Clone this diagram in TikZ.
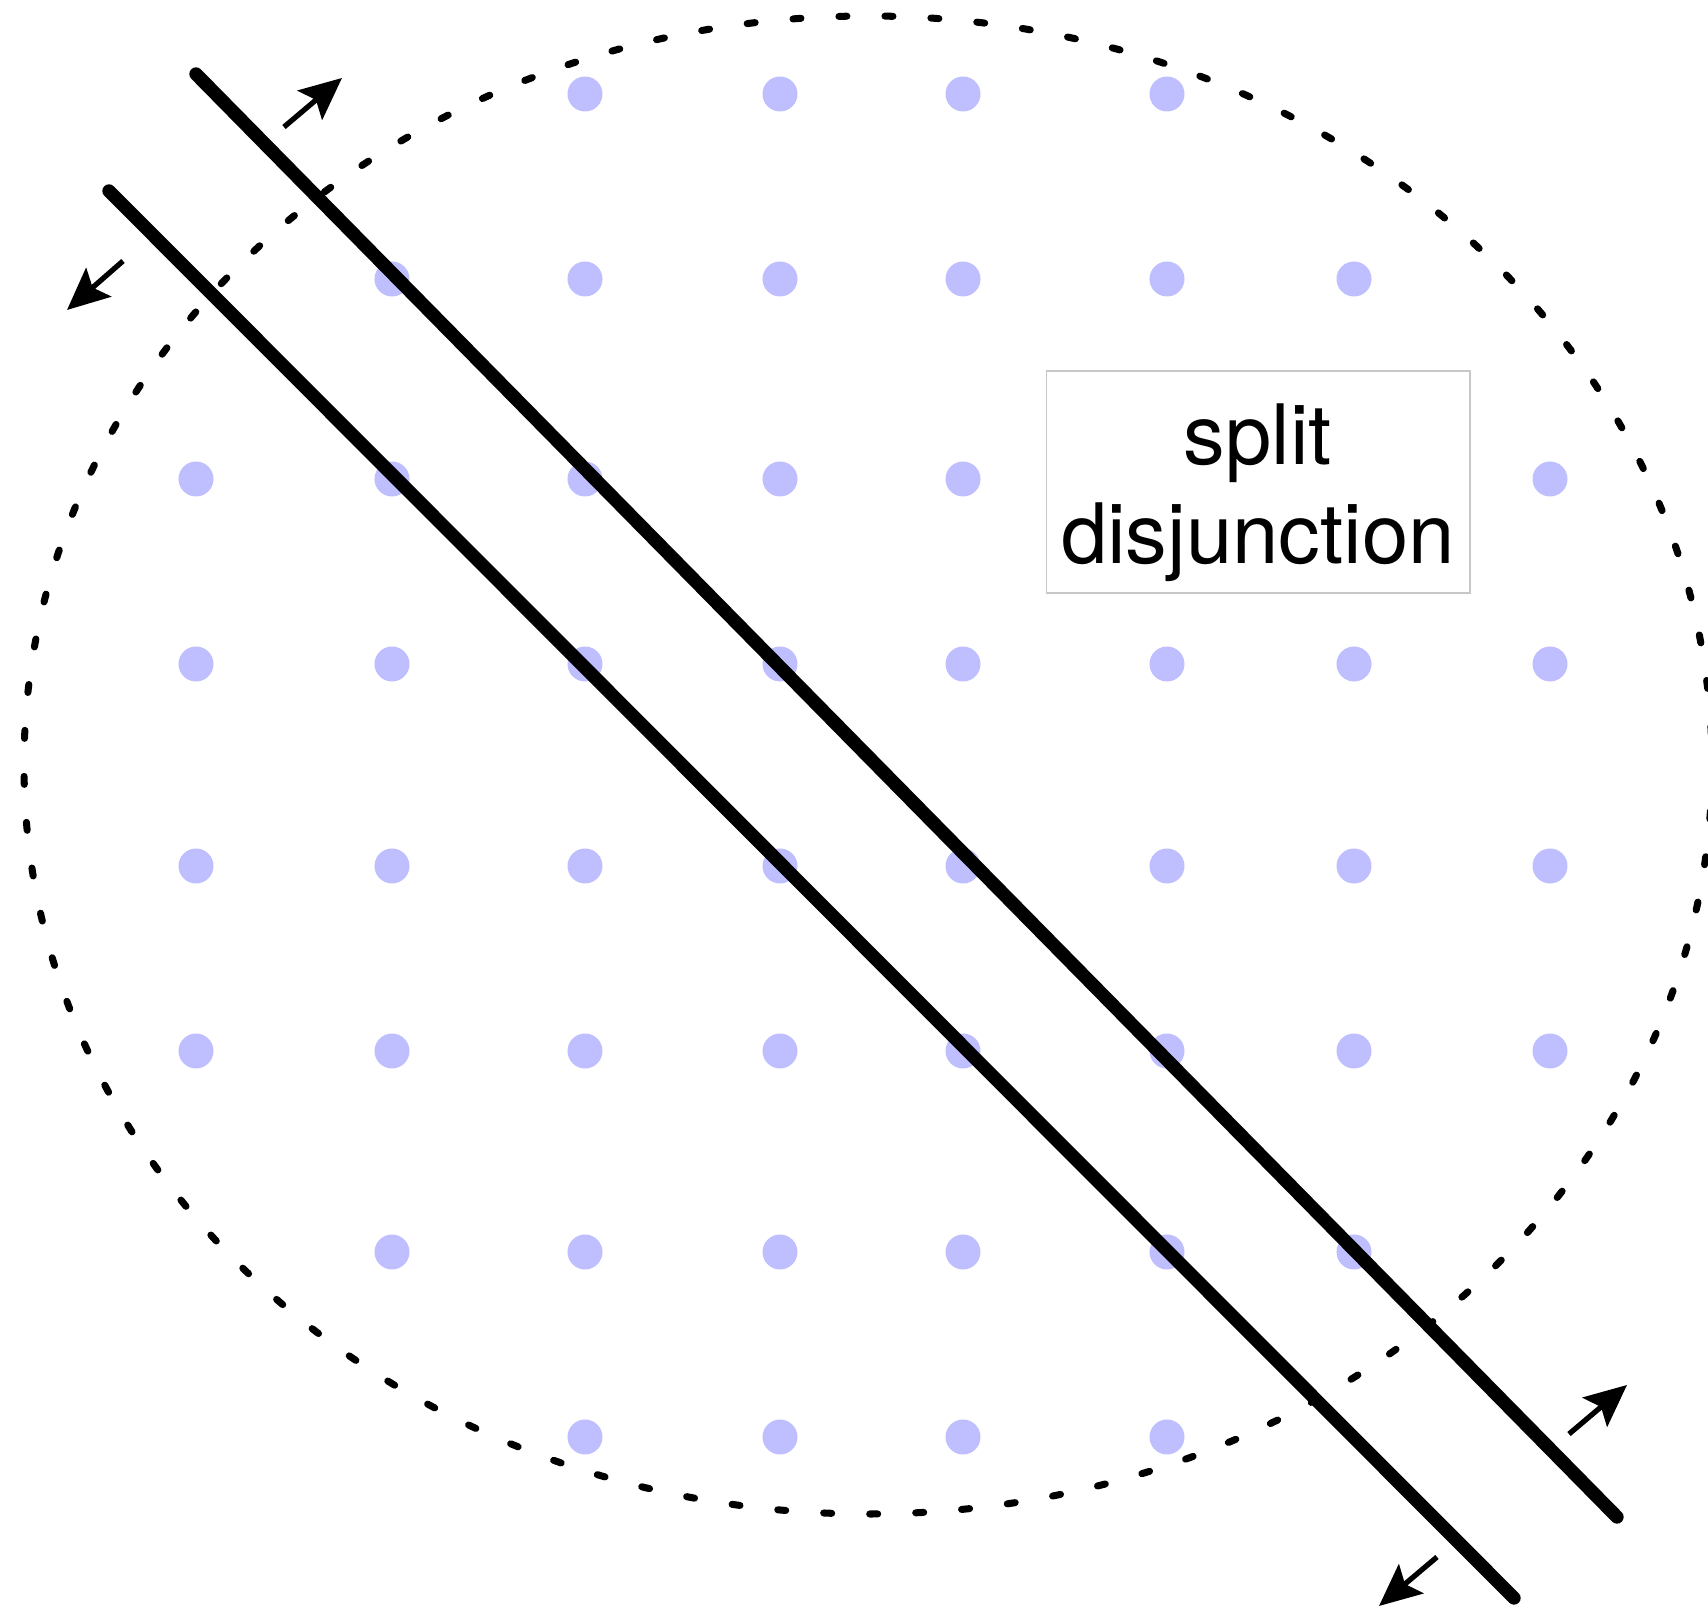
\documentclass[tikz,border=0pt]{standalone}
\usepackage{fontspec}
\setsansfont{TeX Gyre Heros}
\usepackage{tikz}
\usetikzlibrary{arrows.meta, positioning, calc}
\definecolor{dotblue}{RGB}{191,191,255}
\definecolor{boxedge}{RGB}{200,200,200}
\tikzset{
  ptnode/.style={circle,fill=dotblue,inner sep=0pt,minimum size=0.35cm},
  hullpath/.style={line width=2pt,dash pattern=on 0.08cm off 0.38cm,line cap=round},
  cutline/.style={line width=3.8pt,line cap=round},
  pusharr/.style={-{Stealth[length=0.42cm,width=0.38cm,inset=0.08cm]},line width=1.5pt},
  labelbox/.style={rectangle,draw=boxedge,fill=white,line width=0.5pt,align=center,
    font=\sffamily\fontsize{23.7}{28.2}\selectfont,minimum width=4.23cm,minimum height=2.22cm,
    text height=51.2pt,text depth=5pt}
}

\begin{document}
\begin{tikzpicture}[x=0.01cm,y=-0.01cm]
  \useasboundingbox (0,0) rectangle (1708,1610);

  %% Dotted outline of the region
  \draw[hullpath] (868,765) ellipse [x radius=844, y radius=749];

  %% Lattice points
  \foreach \r/\yy/\cols in {0/94/{2,3,4,5},1/279/{1,2,3,4,5,6},2/479/{0,1,2,3,4,5,6,7},
      3/664/{0,1,2,3,4,5,6,7},4/866/{0,1,2,3,4,5,6,7},5/1051/{0,1,2,3,4,5,6,7},
      6/1252/{1,2,3,4,5,6},7/1437/{2,3,4,5}} {
    \foreach \c in \cols {
      \pgfmathsetmacro{\xx}{{196,392,585,780,963,1167,1354,1550}[\c]}
      \node[ptnode] (pt-\r-\c) at (\xx,\yy) {};
    }
  }

  %% Label
  \node[labelbox] (lbl) at (1258,482) {split\\disjunction};

  %% The two cuts
  \coordinate (a1) at (196,74);   \coordinate (a2) at (1617,1517);
  \coordinate (b1) at (109,191);  \coordinate (b2) at (1514,1598);
  \draw[cutline] (a1) -- (a2);
  \draw[cutline] (b1) -- (b2);

  %% Arrows pointing away from the strip
  \coordinate (ua) at (284,127);   \coordinate (ub) at (342,78);
  \coordinate (la) at (123,261);   \coordinate (lb) at (67,310);
  \coordinate (ra) at (1569,1434); \coordinate (rb) at (1627,1385);
  \coordinate (da) at (1437,1557); \coordinate (db) at (1379,1606);
  \draw[pusharr] (ua) -- (ub);
  \draw[pusharr] (la) -- (lb);
  \draw[pusharr] (ra) -- (rb);
  \draw[pusharr] (da) -- (db);
\end{tikzpicture}
\end{document}
